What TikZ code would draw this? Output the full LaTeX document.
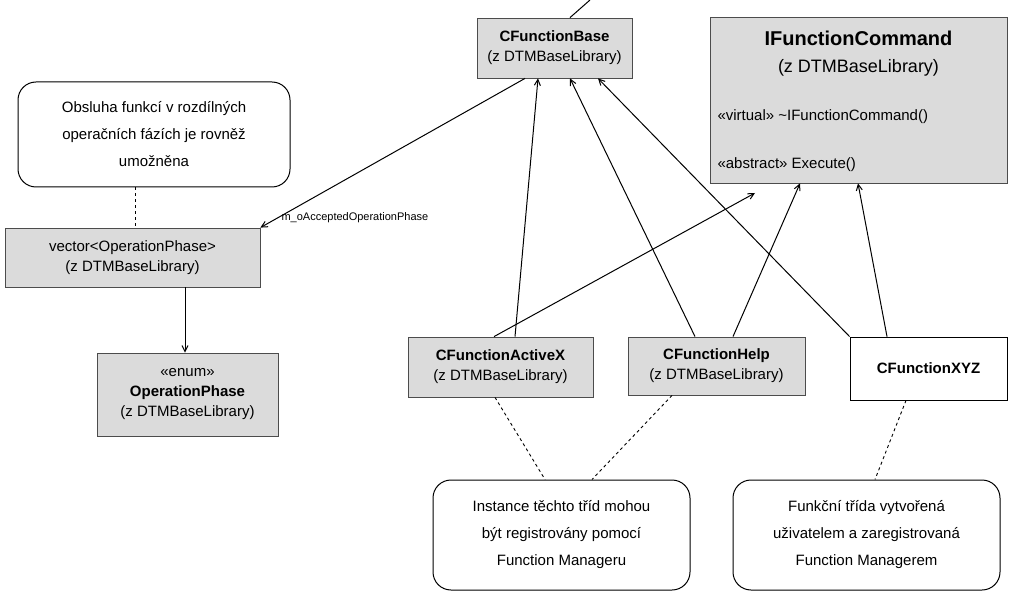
\documentclass[tikz,border=0pt]{standalone}
\usepackage{fontspec}
\setmainfont{Liberation Sans}
\usetikzlibrary{arrows.meta}
\begin{document}
\begin{tikzpicture}[x=1pt,y=-1pt,
  box/.style={draw=black!70,fill=black!14,line width=0.8pt,inner sep=0pt,align=center,font=\fontsize{15}{20}\selectfont},
  note/.style={draw=black,fill=white,rounded corners=18pt,line width=1pt,inner sep=0pt,align=center,font=\fontsize{15}{27}\selectfont},
  arr/.style={draw=black,line width=1pt,-{Straight Barb[length=6pt,width=6pt]}},
  dsh/.style={draw=black,line width=0.9pt,dashed}]
\useasboundingbox (0,0) rectangle (1024,593);
\node[box,minimum width=155,minimum height=60] (base) at (554.5,48) {\textbf{CFunctionBase}\\(z DTMBaseLibrary)};
\coordinate (top) at (590,0);
\draw[line width=1pt] (base.north -| 570,0) -- (top);
\node[box,minimum width=297,minimum height=166] (ifc) at (858.5,100) {};
\node[font=\fontsize{20}{24}\selectfont\bfseries] (ift) at (858.5,38) {IFunctionCommand};
\node[font=\fontsize{18}{22}\selectfont] (ifz) at (858.5,68) {(z DTMBaseLibrary)};
\node[font=\fontsize{15}{18}\selectfont,anchor=west] (ifv) at (714,117) {<<virtual>> \textasciitilde IFunctionCommand()};
\node[font=\fontsize{15}{18}\selectfont,anchor=west] (ifa) at (714,165) {<<abstract>> Execute()};
\node[note,minimum width=272,minimum height=105] (n1) at (154,134.5) {Obsluha funkcí v rozdílných\\operačních fázích je rovněž\\umožněna};
\node[box,minimum width=255,minimum height=59] (vec) at (132.5,257.5) {vector<OperationPhase>\\(z DTMBaseLibrary)};
\node[box,minimum width=181,minimum height=83] (op) at (187.5,394.5) {<<enum>>\\\textbf{OperationPhase}\\(z DTMBaseLibrary)};
\node[box,minimum width=185,minimum height=60] (ax) at (500.5,367) {\textbf{CFunctionActiveX}\\(z DTMBaseLibrary)};
\node[box,minimum width=177,minimum height=58] (hp) at (716.5,366) {\textbf{CFunctionHelp}\\(z DTMBaseLibrary)};
\node[box,fill=white,draw=black,minimum width=157,minimum height=63] (xyz) at (928.5,368.5) {\textbf{CFunctionXYZ}};
\node[note,minimum width=257,minimum height=110] (n2) at (561.5,535) {Instance těchto tříd mohou\\být registrovány pomocí\\Function Manageru};
\node[note,minimum width=267,minimum height=110] (n3) at (866.5,535) {Funkční třída vytvořená\\uživatelem a zaregistrovaná\\Function Managerem};
\draw[dsh] (n1.south -| 135,0) -- (vec.north -| 135,0);
\draw[arr] (base.south -| 525,0) -- (vec.north east);
\node[font=\fontsize{11}{13}\selectfont,anchor=west] (lab) at (278,218) {m\_oAcceptedOperationPhase};
\draw[arr] (vec.south -| 185,0) -- (op.north -| 185,0);
\draw[arr] (ax.north -| 515,0) -- (base.south -| 538,0);
\draw[arr] (ax.north -| 494,0) -- (755,193);
\draw[arr] (hp.north -| 695,0) -- (base.south -| 570,0);
\draw[arr] (hp.north -| 733,0) -- (ifc.south -| 800,0);
\draw[arr] (xyz.north west) -- (base.south -| 598,0);
\draw[arr] (xyz.north -| 887,0) -- (ifc.south -| 858,0);
\draw[dsh] (ax.south -| 495,0) -- (n2.north -| 545,0);
\draw[dsh] (hp.south -| 672,0) -- (n2.north -| 592,0);
\draw[dsh] (xyz.south -| 906,0) -- (n3.north -| 875,0);
\end{tikzpicture}
\end{document}
